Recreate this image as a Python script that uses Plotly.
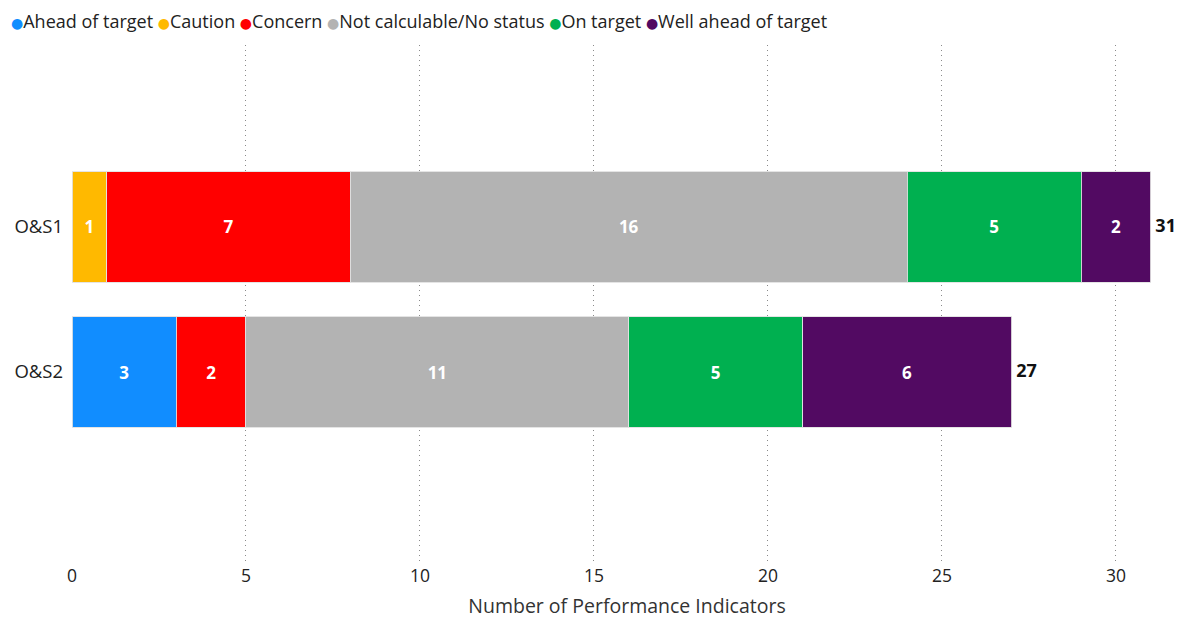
import plotly.graph_objects as go

categories = ["O&S1", "O&S2"]
statuses = ["Ahead of target", "Caution", "Concern", "Not calculable/No status", "On target", "Well ahead of target"]
colors = ["#118DFF", "#FFB900", "#FF0000", "#B3B3B3", "#00B050", "#520A62"]
ahead = [0, 3]
caution = [1, 0]
concern = [7, 2]
not_calc = [16, 11]
on_target = [5, 5]
well_ahead = [2, 6]
values = [ahead, caution, concern, not_calc, on_target, well_ahead]
totals = [sum(v[i] for v in values) for i in range(len(categories))]

FONT = "Open Sans"
fig = go.Figure()
for name, col, vals in zip(statuses, colors, values):
    fig.add_trace(go.Bar(
        y=categories, x=vals, orientation="h", name=name,
        marker=dict(color=col, line=dict(color="rgba(225,225,225,0.9)", width=1)),
        text=[str(v) if v else "" for v in vals],
        textposition="inside", insidetextanchor="middle",
        textfont=dict(color="white", size=17, family=FONT, weight="bold"),
        constraintext="none", showlegend=False, width=0.76,
        hoverinfo="skip",
    ))

fig.add_trace(go.Scatter(
    x=totals, y=categories, mode="text", text=[f" <b>{t}</b>" for t in totals],
    textposition="middle right", textfont=dict(size=18, family=FONT, color="#111111"),
    showlegend=False, cliponaxis=False, hoverinfo="skip",
))

legend_text = " ".join(
    f"<span style='color:{c};font-size:14px;font-family:DejaVu Sans'>●</span>{s}"
    for s, c in zip(statuses, colors)
)
fig.add_annotation(
    text=legend_text, xref="paper", yref="paper", x=-0.057, y=1.0, yshift=24,
    xanchor="left", yanchor="middle", showarrow=False,
    font=dict(family=FONT, size=18, color="#222222"),
)

fig.update_layout(
    barmode="stack", width=1176, height=615,
    margin=dict(l=64, r=2, t=37, b=60, autoexpand=False),
    plot_bgcolor="white", paper_bgcolor="white",
    font=dict(family=FONT, size=16, color="#222222"),
    showlegend=False,
    xaxis=dict(range=[0, 31.9], tickvals=[0, 5, 10, 15, 20, 25, 30],
               showgrid=True, griddash="1px,4px", gridcolor="#8A8A8A", gridwidth=1,
               zeroline=False, showline=False, ticks="", automargin=False,
               tickfont=dict(size=17.5, color="#222222"),
               title=dict(text="Number of Performance Indicators", font=dict(size=19.5, color="#333333"), standoff=13)),
    yaxis=dict(categoryorder="array", categoryarray=["O&S2", "O&S1"],
               range=[-1.317, 2.255], showgrid=False, zeroline=False, automargin=False,
               tickfont=dict(size=18.5, color="#222222"), ticklabelstandoff=8),
)
fig.write_html("out.html")
